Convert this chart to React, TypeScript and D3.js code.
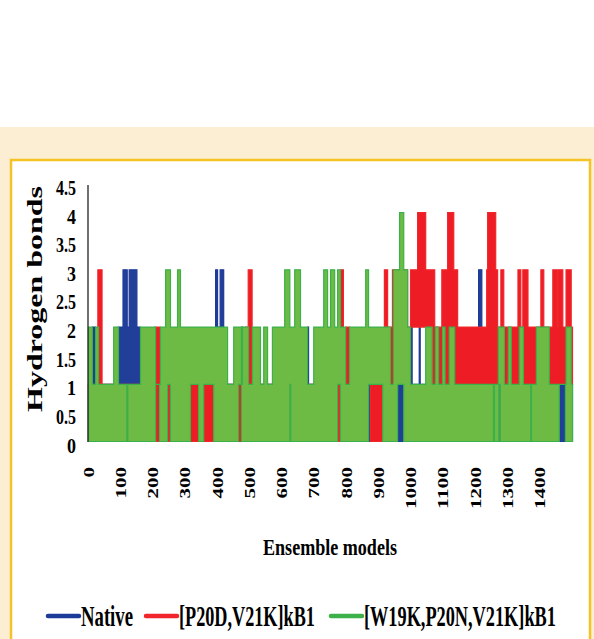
import React, { useEffect, useRef } from 'react';
import * as d3 from 'd3';

// number of ensemble models on the x axis
const nModels = 1500;

const yTicks = [0, 0.5, 1, 1.5, 2, 2.5, 3, 3.5, 4, 4.5];
const xTicks = [0, 100, 200, 300, 400, 500, 600, 700, 800, 900, 1000, 1100, 1200, 1300, 1400];

const seriesNames = ['Native', '[P20D,V21K]kB1', '[W19K,P20N,V21K]kB1'];

// each entry: [first model, last model, min H-bonds, max H-bonds]
// (the traces flip so fast that they look like solid bands), later entries override earlier ones
const nativeBands: [number, number, number, number][] = [
    [0, 1500, 0, 1],
    [12, 22, 0, 2],
    [92, 107, 0, 2], [107, 120, 0, 3], [120, 126, 0, 2], [126, 150, 0, 3], [150, 160, 0, 2],
    [394, 400, 0, 3], [400, 408, 0, 2], [408, 419, 0, 3],
    [474, 478, 0, 2],
    [679, 682, 0, 2],
    [1000, 1003, 0, 2], [1025, 1028, 0, 2],
    [1209, 1219, 0, 3],
];

const p20dBands: [number, number, number, number][] = [
    [0, 1500, 0, 1],
    [29, 42, 1, 3],
    [119, 123, 1, 1],
    [206, 222, 0, 2],
    [250, 254, 1, 1],
    [486, 495, 1, 2], [495, 507, 1, 3],
    [772, 778, 0, 2], [778, 781, 1, 2], [781, 790, 1, 3],
    [797, 809, 1, 2],
    [866, 874, 1, 1],
    [917, 927, 1, 3], [927, 942, 0, 2], [942, 989, 1, 3], [989, 998, 1, 2],
    [998, 1020, 2, 3], [1020, 1045, 2, 4], [1045, 1064, 2, 3],
    [1064, 1073, 1, 3], [1073, 1095, 1, 2], [1095, 1113, 1, 3], [1113, 1132, 1, 4], [1132, 1144, 1, 3],
    [1144, 1234, 1, 2], [1234, 1237, 1, 3], [1237, 1262, 1, 4], [1262, 1268, 1, 3],
    [1268, 1278, 1, 2], [1278, 1287, 1, 3], [1287, 1331, 1, 2], [1331, 1340, 1, 3],
    [1340, 1346, 1, 2], [1346, 1362, 1, 3], [1362, 1402, 1, 2], [1402, 1411, 1, 3],
    [1411, 1439, 1, 2], [1439, 1452, 1, 3], [1452, 1455, 1, 2], [1455, 1470, 1, 3],
    [1470, 1480, 1, 2], [1480, 1496, 1, 3], [1496, 1500, 1, 2],
];

const w19kBands: [number, number, number, number][] = [
    [0, 1500, 0, 1],
    [0, 12, 0, 2], [22, 31, 0, 2], [78, 93, 0, 2], [119, 122, 1, 1],
    [161, 208, 0, 2], [208, 220, 1, 1], [223, 239, 0, 2], [239, 245, 0, 3], [245, 254, 1, 3],
    [254, 276, 0, 2], [276, 285, 0, 3], [285, 316, 0, 2], [316, 341, 1, 2], [341, 357, 0, 2],
    [357, 388, 1, 2], [388, 431, 0, 2], [450, 465, 0, 2], [465, 474, 1, 2], [477, 496, 0, 2],
    [508, 533, 0, 2], [543, 555, 0, 2], [570, 608, 0, 2], [608, 624, 0, 3], [624, 627, 1, 2],
    [627, 639, 0, 2], [639, 657, 0, 3], [657, 679, 0, 2], [698, 729, 0, 2], [729, 741, 0, 3],
    [741, 750, 0, 2], [750, 763, 0, 3], [763, 772, 0, 2], [772, 781, 1, 3], [781, 797, 0, 2],
    [809, 859, 0, 2], [859, 868, 0, 3], [868, 912, 1, 2], [912, 936, 0, 2],
    [945, 958, 0, 3], [958, 964, 1, 3], [964, 977, 1, 4], [977, 989, 0, 3], [989, 998, 0, 2],
    [1045, 1065, 0, 2], [1075, 1085, 0, 2], [1097, 1105, 0, 2], [1118, 1135, 0, 2],
    [1255, 1258, 1, 1], [1270, 1289, 0, 2], [1272, 1276, 1, 2], [1301, 1310, 0, 2],
    [1335, 1348, 0, 2], [1371, 1373, 1, 1], [1388, 1428, 0, 2], [1459, 1478, 1, 1],
    [1480, 1496, 0, 2],
];

const palette = {
    fill: ['#213f99', '#ee1c24', '#6dbb45'],
    stroke: ['#1c3a98', '#f0262c', '#3cb14a'],
};

function envelope(bands: [number, number, number, number][]) {
    let lo = new Array(nModels).fill(0);
    let hi = new Array(nModels).fill(0);
    bands.forEach(([a, b, mn, mx]) => {
        for (let i = a; i < Math.min(b, nModels); ++i) {
            lo[i] = mn;
            hi[i] = mx;
        }
    });
    let pts = [];
    for (let i = 0; i <= nModels; ++i) {
        let k = Math.min(i, nModels - 1);
        pts.push({ m: i, lo: lo[k], hi: hi[k] });
    }
    return pts;
}

// the figure is squeezed sideways, so text is squeezed along its run to a measured length
function fitText(g: any, str: string, x: number, y: number, size: number, len: number, anchor: string, rotate = 0) {
    let t = g.append('text')
        .attr('font-family', '"Liberation Serif", "Times New Roman", serif')
        .attr('font-weight', 'bold')
        .attr('font-size', size)
        .attr('text-anchor', anchor)
        .text(str);
    let w = t.node().getComputedTextLength() || len;
    t.attr('transform', `translate(${x},${y}) rotate(${rotate}) scale(${len / w},1)`);
    return t;
}

export default function App() {
    const ref = useRef<SVGSVGElement>(null);

    useEffect(() => {
        let svg = d3.select(ref.current);
        svg.selectAll('*').remove();

        // page background
        svg.append('rect').attr('x', 0).attr('y', 0).attr('width', 594).attr('height', 127).attr('fill', 'white');
        svg.append('rect').attr('x', 0).attr('y', 127).attr('width', 594).attr('height', 520).attr('fill', '#fbeed3');
        svg.append('rect')
            .attr('x', 11).attr('y', 160).attr('width', 579).attr('height', 520)
            .attr('fill', 'white')
            .attr('stroke', '#f6c324')
            .attr('stroke-width', 2.5);

        let x = d3.scaleLinear().domain([0, nModels]).range([88.5, 572.5]);
        let y = d3.scaleLinear().domain([0, 4.5]).range([441.5, 184]);

        let area = d3.area<any>()
            .x(d => x(d.m))
            .y0(d => y(d.lo))
            .y1(d => y(d.hi))
            .curve(d3.curveStepAfter);

        [nativeBands, p20dBands, w19kBands].forEach((bands, i) => {
            svg.append('path')
                .datum(envelope(bands))
                .attr('d', area)
                .attr('fill', palette.fill[i])
                .attr('stroke', palette.stroke[i])
                .attr('stroke-width', 1.2)
                .attr('stroke-linejoin', 'miter');
        });

        // y axis
        svg.append('line')
            .attr('x1', 88).attr('x2', 88)
            .attr('y1', 185).attr('y2', 442)
            .attr('stroke', '#222').attr('stroke-width', 1.3);

        let yLabels = svg.append('g');
        yTicks.forEach(d => {
            fitText(yLabels, d.toString(), 76, y(d) + 11, 21, Number.isInteger(d) ? 9 : 20, 'end');
        });

        let xLabels = svg.append('g');
        xTicks.forEach(d => {
            fitText(xLabels, d.toString(), x(d) + 5, 467, 15, d.toString().length * 10.5, 'end', -90);
        });

        // axis titles
        fitText(svg, 'Hydrogen bonds', 42, 299, 22, 226, 'middle', -90);
        fitText(svg, 'Ensemble models', 330, 555, 23, 134, 'middle');

        // legend
        let legendX = [48, 146, 331];
        let legendLen = [52, 136, 192];
        seriesNames.forEach((name, i) => {
            svg.append('line')
                .attr('x1', legendX[i]).attr('x2', legendX[i] + 31)
                .attr('y1', 616).attr('y2', 616)
                .attr('stroke', palette.stroke[i])
                .attr('stroke-width', 4.5)
                .attr('stroke-linecap', 'round');
            fitText(svg, name, legendX[i] + 33, 626, 30, legendLen[i], 'start');
        });
    }, []);

    return (
        <svg ref={ref} width={594} height={639}
            style={{ position: 'absolute', left: 0, top: 0, display: 'block' }} />
    );
}
